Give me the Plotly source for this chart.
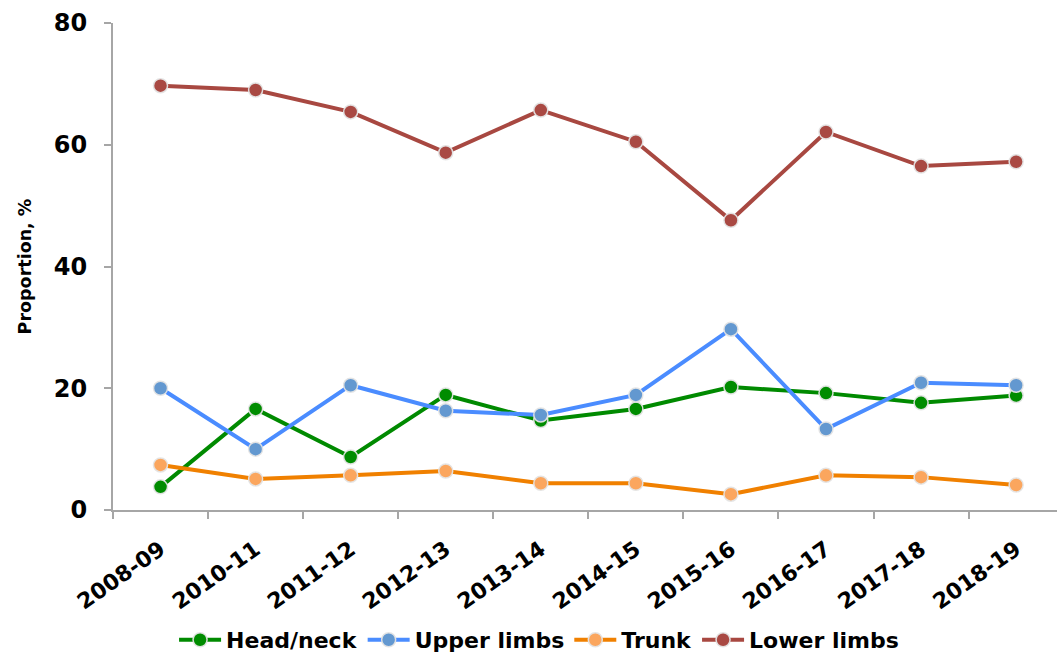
import plotly.graph_objects as go

# Seasons on the category axis
seasons = ["2008-09", "2010-11", "2011-12", "2012-13", "2013-14",
           "2014-15", "2015-16", "2016-17", "2017-18", "2018-19"]

# Share of injuries by body region, %
head_neck = [3.8, 16.6, 8.7, 18.9, 14.7, 16.6, 20.2, 19.2, 17.6, 18.8]
upper_limbs = [20.0, 10.0, 20.5, 16.3, 15.6, 18.9, 29.7, 13.3, 20.9, 20.5]
trunk = [7.4, 5.1, 5.7, 6.4, 4.4, 4.4, 2.6, 5.7, 5.4, 4.1]
lower_limbs = [69.7, 69.0, 65.4, 58.7, 65.7, 60.5, 47.6, 62.1, 56.5, 57.2]

y_ticks = [0, 20, 40, 60, 80]

FONT = "DejaVu Sans"

series = [
    ("Head/neck", head_neck, "#008a00", "#008c00"),
    ("Upper limbs", upper_limbs, "#4a8cff", "#6398d0"),
    ("Trunk", trunk, "#f08000", "#fba65e"),
    ("Lower limbs", lower_limbs, "#a84841", "#a94943"),
]

fig = go.Figure()
for name, values, line_color, marker_color in series:
    fig.add_trace(go.Scatter(
        x=seasons,
        y=values,
        name=name,
        mode="lines+markers",
        line=dict(color=line_color, width=4),
        marker=dict(
            symbol="circle",
            size=14,
            color=marker_color,
            line=dict(color="rgba(228,228,228,0.95)", width=1.5),
        ),
    ))

axis_gray = "#a6a6a6"

fig.update_layout(
    width=1057,
    height=657,
    margin=dict(l=113, r=0, t=23, b=147),
    paper_bgcolor="white",
    plot_bgcolor="white",
    font=dict(family=FONT, color="black", weight="bold"),
    showlegend=True,
    legend=dict(
        orientation="h",
        xref="container",
        yref="container",
        x=0.51,
        xanchor="center",
        y=0.026,
        yanchor="middle",
        font=dict(family=FONT, size=22, color="black", weight="bold"),
        itemwidth=42,
        tracegroupgap=0,
    ),
    xaxis=dict(
        type="category",
        range=[-0.5, 9.43],
        showgrid=False,
        zeroline=False,
        showline=True,
        linecolor=axis_gray,
        linewidth=2,
        ticks="outside",
        tickson="boundaries",
        ticklen=7,
        tickwidth=2,
        tickcolor=axis_gray,
        tickangle=-35,
        ticklabelstandoff=16,
        tickfont=dict(family=FONT, size=22, color="black", weight="bold"),
    ),
    yaxis=dict(
        range=[0, 80],
        tickvals=y_ticks,
        showgrid=False,
        zeroline=False,
        showline=True,
        linecolor=axis_gray,
        linewidth=2,
        ticks="outside",
        ticklen=7,
        tickwidth=2,
        tickcolor=axis_gray,
        tickfont=dict(family=FONT, size=24, color="black", weight="bold"),
        ticklabelstandoff=12,
        title=dict(
            text="Proportion, %",
            font=dict(family=FONT, size=17.5, color="black", weight="bold"),
            standoff=18,
        ),
    ),
)

fig.write_html("out.html")
